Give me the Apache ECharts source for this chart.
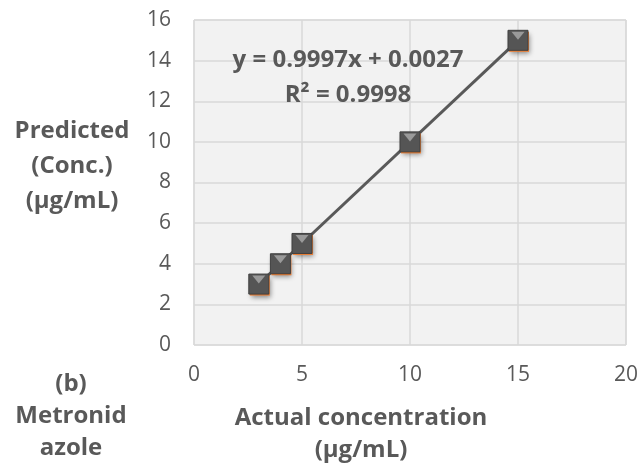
<!DOCTYPE html>
<html>
<head>
<meta charset="utf-8">
<script src="https://cdn.jsdelivr.net/npm/echarts@6/dist/echarts.min.js"></script>
<style>
  html, body { margin: 0; padding: 0; background: #fff; }
  #chart { width: 641px; height: 464px; }
</style>
</head>
<body>
<div id="chart"></div>
<script>
// actual vs predicted concentration (ug/mL)
var actualConc = [3, 4, 5, 10, 15];
var predictedConc = [3, 4, 5, 10, 15];
// trendline as printed on the chart
var slope = 0.9997;
var intercept = 0.0027;
var fitRange = [3, 15];
var yTicks = [0, 2, 4, 6, 8, 10, 12, 14, 16];
var xTicks = [0, 5, 10, 15, 20];

var font = "'Open Sans', sans-serif";
var txtColor = "#595959";
var gridColor = "#d9d9d9";

var points = actualConc.map(function (x, i) { return [x, predictedConc[i]]; });
var fitLine = fitRange.map(function (x) { return [x, slope * x + intercept]; });

// bold title text block, centred on (x, y)
function label(text, x, y, lh) {
  return {
    type: "text", z: 10,
    style: {
      text: text, x: x, y: y,
      align: "center", verticalAlign: "middle",
      fill: txtColor, fontFamily: font, fontWeight: "bold", fontSize: 24, lineHeight: lh
    }
  };
}

var myChart = echarts.init(document.getElementById("chart"));
var option = {
  animation: false,
  grid: {
    left: 194, right: 14, top: 20, bottom: 119,
    show: true,
    backgroundColor: "#f2f2f2",
    borderColor: gridColor,
    borderWidth: 1
  },
  xAxis: {
    type: "value",
    min: xTicks[0], max: xTicks[xTicks.length - 1], interval: 5,
    axisLine: { show: false },
    axisTick: { show: false },
    splitLine: { lineStyle: { color: gridColor, width: 1.5 } },
    axisLabel: { color: txtColor, fontFamily: font, fontSize: 21, margin: 20 }
  },
  yAxis: {
    type: "value",
    min: yTicks[0], max: yTicks[yTicks.length - 1], interval: 2,
    axisLine: { show: false },
    axisTick: { show: false },
    splitLine: { lineStyle: { color: gridColor, width: 1.5 } },
    axisLabel: { color: txtColor, fontFamily: font, fontSize: 21, margin: 23 }
  },
  graphic: [
    label("Predicted\n(Conc.)\n(µg/mL)", 72, 166, 35),
    label("(b)\nMetronid\nazole", 71, 416, 32),
    label("Actual concentration\n(µg/mL)", 361, 434, 32),
    label("y = 0.9997x + 0.0027\nR² = 0.9998", 348, 78, 35)
  ],
  series: [
    {
      name: "trend",
      type: "line",
      data: fitLine,
      showSymbol: false,
      silent: true,
      z: 2,
      lineStyle: { color: "#595959", width: 3 }
    },
    {
      name: "edge",
      type: "scatter",
      data: points,
      symbol: "rect",
      symbolSize: 20,
      symbolOffset: [1, 1.5],
      z: 3,
      itemStyle: { color: "#ed7d31", opacity: 1, shadowColor: "rgba(0,0,0,0.45)", shadowBlur: 5, shadowOffsetX: 1, shadowOffsetY: 2 }
    },
    {
      name: "marker",
      type: "scatter",
      data: points,
      symbol: "rect",
      symbolSize: 20,
      z: 4,
      itemStyle: { color: "#555555", opacity: 1, borderColor: "#404040", borderWidth: 1 }
    },
    {
      name: "bevel",
      type: "scatter",
      data: points,
      symbol: "path://M0,0 L10,0 L5,6 Z",
      symbolSize: [13, 8],
      symbolOffset: [0, -4.5],
      z: 5,
      itemStyle: { color: "#9a9a9a", opacity: 1 }
    }
  ]
};
myChart.setOption(option);
</script>
</body>
</html>
